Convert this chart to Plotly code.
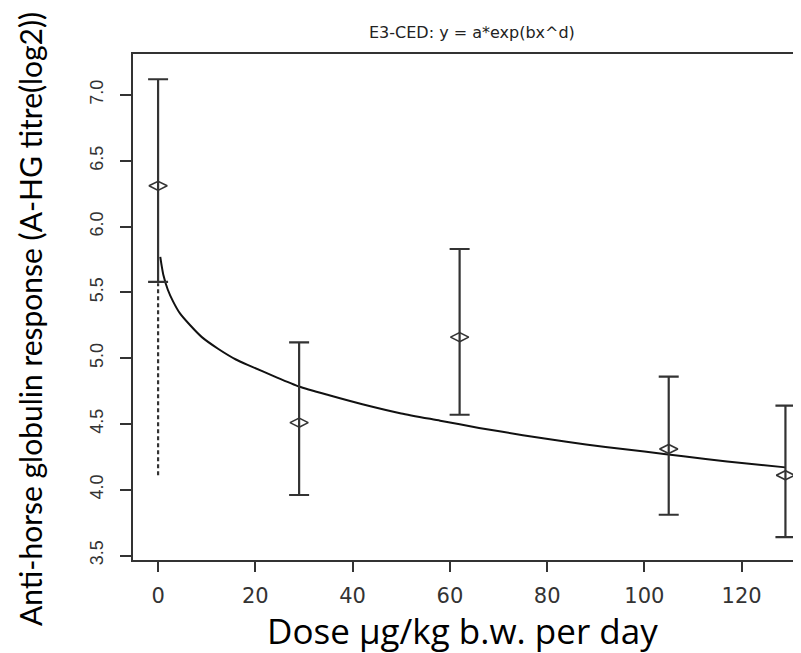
import plotly.graph_objects as go

# ---- data ----
dose = [0, 29, 62, 105, 129]
mean_resp = [6.31, 4.51, 5.16, 4.31, 4.11]
upper = [7.12, 5.12, 5.83, 4.86, 4.64]
lower = [5.58, 3.96, 4.57, 3.81, 3.64]

curve_x = [0.45, 0.7, 1.1, 2, 3.1, 4.5, 6.6, 9, 12.4, 16, 19, 24, 29, 35, 42,
           50, 58, 66, 75, 84, 92, 100, 108, 117, 129]
curve_y = [5.77, 5.71, 5.63, 5.52, 5.43, 5.34, 5.25, 5.16, 5.07, 4.99, 4.94,
           4.86, 4.785, 4.72, 4.65, 4.58, 4.525, 4.47, 4.415, 4.365, 4.325,
           4.29, 4.255, 4.215, 4.17]

ced_x = [0, 0]
ced_y = [4.11, 5.57]

x_ticks = [0, 20, 40, 60, 80, 100, 120]
y_ticks = [3.5, 4.0, 4.5, 5.0, 5.5, 6.0, 6.5, 7.0]

title_text = "E3-CED: y = a*exp(bx^d)"
x_title = "Dose µg/kg b.w. per day"
y_title = "Anti-horse globulin response (A-HG titre(log2))"

ink = "#333333"

# page body has an 8px default margin; the figure is sized so that it
# fills the 801x653 window from that offset
OFF = 8
W, H = 801 - OFF, 653 - OFF
L, T, B = 133 - OFF, 54 - OFF, 93
PW, PH = W - L, H - T - B


def px(page_x):
    return (page_x - OFF - L) / PW


def py(page_y):
    return (H - B - (page_y - OFF)) / PH


fig = go.Figure()

# CED dashed line
fig.add_trace(go.Scatter(
    x=ced_x, y=ced_y, mode="lines",
    line=dict(color=ink, width=2.2, dash="4px,3px"),
    hoverinfo="skip", showlegend=False))

# fitted curve
fig.add_trace(go.Scatter(
    x=curve_x, y=curve_y, mode="lines",
    line=dict(color="#111111", width=2, shape="spline", smoothing=0.6),
    showlegend=False))

# means with error bars
fig.add_trace(go.Scatter(
    x=dose, y=mean_resp, mode="markers",
    marker=dict(symbol="diamond-wide-open", size=13, color=ink,
                line=dict(color=ink, width=1.6)),
    error_y=dict(type="data", symmetric=False,
                 array=[u - m for u, m in zip(upper, mean_resp)],
                 arrayminus=[m - l for m, l in zip(mean_resp, lower)],
                 color=ink, thickness=2.2, width=10),
    showlegend=False))

fig.update_layout(
    template="none",
    width=W, height=H,
    margin=dict(l=L, r=0, t=T, b=B, pad=0),
    paper_bgcolor="white", plot_bgcolor="white",
    showlegend=False,
    xaxis=dict(
        automargin=False,
        range=[-5.16, 132.2], tickmode="array", tickvals=x_ticks,
        ticktext=[str(v) for v in x_ticks],
        showgrid=False, zeroline=False,
        showline=True, linecolor=ink, linewidth=2, mirror=True,
        ticks="outside", ticklen=10, tickwidth=2, tickcolor=ink,
        ticklabelstandoff=6,
        tickfont=dict(family="DejaVu Sans", size=21, color=ink)),
    yaxis=dict(
        automargin=False,
        range=[3.466, 7.312], tickmode="array", tickvals=y_ticks,
        ticktext=[f"{v:.1f}" for v in y_ticks],
        showgrid=False, zeroline=False,
        showline=True, linecolor=ink, linewidth=2, mirror=False,
        ticks="outside", ticklen=11, tickwidth=2, tickcolor=ink,
        tickangle=-90, ticklabelstandoff=10,
        tickfont=dict(family="Liberation Sans", size=18, color=ink)),
    annotations=[
        dict(text=title_text, xref="paper", yref="paper",
             x=px(472), y=py(32),
             xanchor="center", yanchor="middle", showarrow=False,
             font=dict(family="DejaVu Sans", size=16, color="#222222")),
        dict(text=x_title, xref="paper", yref="paper",
             x=px(462), y=py(630),
             xanchor="center", yanchor="middle", showarrow=False,
             font=dict(family="Open Sans", size=35, color="black")),
        dict(text=y_title, xref="paper", yref="paper",
             x=px(30), y=py(319), textangle=-90,
             xanchor="center", yanchor="middle", showarrow=False,
             font=dict(family="Lato", size=30, color="black")),
    ],
)

fig.write_html("out.html")
